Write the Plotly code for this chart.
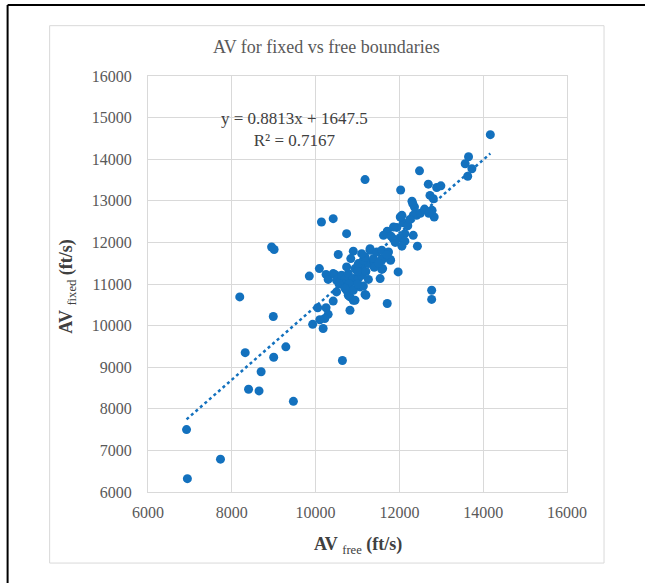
import plotly.graph_objects as go

# AV free (x) and AV fixed (y), ft/s
av_free = [
    6920, 6940, 7730, 8190, 8320, 8400, 8650, 8700, 8950, 9010,
    8990, 9000, 9290, 9470, 10640, 9850, 10090, 10140, 10420, 10740,
    11180, 11710, 11970, 12770, 12770, 12430, 14170, 13650, 13570, 13730,
    13630, 12480, 12030, 12690, 12890, 12990, 12730, 12810, 12300, 12360,
    12760, 12830, 12410, 12060, 12330, 12130, 12010, 12130, 12060, 11940,
    12090, 11710, 11620, 11860, 12020, 12330, 12320, 12780,
    10050, 10250, 10300, 10220, 10100, 9930, 10180, 10420, 10500,
    10740, 10820, 10940, 10900, 10780, 11060, 11140, 11180, 11200, 10820,
    10250, 10300, 10420, 10460, 10500, 10580, 10620, 10700, 10780, 10860,
    10660, 10900, 11020, 11100, 11260, 10740, 10940, 11100, 11260, 11020,
    11140, 11180, 11380, 11380, 11580, 11600, 11580, 11540, 11580, 11790,
    11780, 11300, 11300, 11460, 11580, 11740, 10540, 10900, 10840, 11100,
    10560, 11000, 10800, 11200, 11400, 11700, 11900, 11500, 10700, 10900,
    11000, 12200, 12500, 12600, 12700, 12250, 11800,
]
av_fixed = [
    7500, 6320, 6790, 10690, 9350, 8470, 8430, 8890, 11890, 11830,
    10220, 9240, 9490, 8180, 9160, 11190, 11370, 12490, 12570, 12210,
    13510, 10530, 11290, 10850, 10630, 11910, 14590, 14060, 13890, 13770,
    13590, 13720, 13260, 13400, 13320, 13360, 13130, 13050, 12990, 12850,
    12760, 12610, 12650, 12650, 12170, 12210, 12110, 12030, 11910, 12360,
    12470, 12270, 12170, 12370, 12610, 12650, 12930, 12770,
    10430, 10430, 10270, 10170, 10140, 10030, 9930, 10590, 10810,
    10850, 10690, 10610, 10610, 10730, 10930, 10950, 10750, 10730, 10370,
    11230, 11110, 11250, 11230, 11090, 11050, 11210, 11130, 11250, 11050,
    11010, 11130, 11130, 11210, 11110, 11410, 11370, 11410, 11490, 11490,
    11570, 11650, 11570, 11610, 11610, 11370, 11350, 11130, 11570, 11570,
    11590, 11810, 11850, 11770, 11810, 11770, 11710, 11790, 11610, 11730,
    11000, 11300, 11000, 11300, 11400, 11700, 12000, 11500, 10900, 10850,
    11000, 12400, 12700, 12800, 12700, 12550, 12150,
]

slope = 0.8813
intercept = 1647.5
r_squared = 0.7167

tick_vals = [6000, 8000, 10000, 12000, 14000, 16000]
y_tick_vals = [6000, 7000, 8000, 9000, 10000, 11000, 12000, 13000, 14000, 15000, 16000]

BLUE = "rgb(19,113,190)"
GRID = "#D9D9D9"
FONT = "Liberation Serif"

x_min, x_max = min(av_free), max(av_free)
trend_x = [x_min, x_max]
trend_y = [slope * v + intercept for v in trend_x]

fig = go.Figure()
fig.add_trace(go.Scatter(
    x=trend_x, y=trend_y, mode="lines",
    line=dict(color=BLUE, width=2.5, dash="dot"),
    hoverinfo="skip", showlegend=False,
))
fig.add_trace(go.Scatter(
    x=av_free, y=av_fixed, mode="markers",
    marker=dict(color=BLUE, size=9, line=dict(width=0)),
    showlegend=False,
))

# plot area in pixels: x 148..567, y 76..492
L, R, T, B = 148.3, 567.0, 76.0, 491.7
W, H = 645, 583
pw, ph = R - L, B - T

def px(xp):
    return (xp - L) / pw

def py(yp):
    return (B - yp) / ph

fig.update_layout(
    width=W, height=H,
    margin=dict(l=L, r=W - R, t=T, b=H - B, pad=0),
    paper_bgcolor="white", plot_bgcolor="white",
    font=dict(family=FONT, color="#595959", size=16),
    xaxis=dict(
        range=[6000, 16000], tickvals=tick_vals,
        ticktext=[str(v) for v in tick_vals],
        showgrid=True, gridcolor=GRID, gridwidth=1,
        showline=True, linecolor=GRID, linewidth=1, mirror=True,
        zeroline=False, ticks="", ticklabelstandoff=6,
        tickfont=dict(size=16, color="#595959", family=FONT),
    ),
    yaxis=dict(
        range=[6000, 16000], tickvals=y_tick_vals,
        ticktext=[str(v) for v in y_tick_vals],
        showgrid=True, gridcolor=GRID, gridwidth=1,
        showline=True, linecolor=GRID, linewidth=1, mirror=True,
        zeroline=False, ticks="", ticklabelstandoff=12,
        tickfont=dict(size=16, color="#595959", family=FONT),
    ),
    shapes=[
        # chart area border
        dict(type="rect", xref="paper", yref="paper",
             x0=px(50), x1=px(604), y0=py(562.7), y1=py(25.7),
             line=dict(color=GRID, width=1), fillcolor="rgba(0,0,0,0)", layer="below"),
        # outer black frame lines (top and left)
        dict(type="line", xref="paper", yref="paper",
             x0=px(8), x1=px(646), y0=py(5), y1=py(5),
             line=dict(color="black", width=2)),
        dict(type="line", xref="paper", yref="paper",
             x0=px(8), x1=px(8), y0=py(5), y1=py(590),
             line=dict(color="black", width=2)),
    ],
    annotations=[
        dict(text="AV for fixed vs free boundaries", xref="paper", yref="paper",
             x=px(327), y=py(47), xanchor="center", yanchor="middle",
             showarrow=False, font=dict(size=18, color="#595959", family=FONT)),
        dict(text="<b>AV</b> <sub>free</sub> <b>(ft/s)</b>", xref="paper", yref="paper",
             x=0.5, y=py(545), xanchor="center", yanchor="middle",
             showarrow=False, font=dict(size=18, color="#404040", family=FONT)),
        dict(text="<b>AV</b> <sub>fixed</sub> <b>(ft/s)</b>", xref="paper", yref="paper",
             x=px(68), y=py(286), xanchor="center", yanchor="middle", textangle=-90,
             showarrow=False, font=dict(size=18, color="#404040", family=FONT)),
        dict(text=f"y = {slope}x + {intercept}<br>R² = {r_squared}",
             xref="paper", yref="paper",
             x=px(295), y=py(129), xanchor="center", yanchor="middle",
             align="center", showarrow=False,
             font=dict(size=17, color="#404040", family=FONT)),
    ],
)

fig.write_html(
    "out.html",
    config={"displayModeBar": False},
    post_script="document.body.style.margin='0';document.body.style.overflow='hidden';",
)
